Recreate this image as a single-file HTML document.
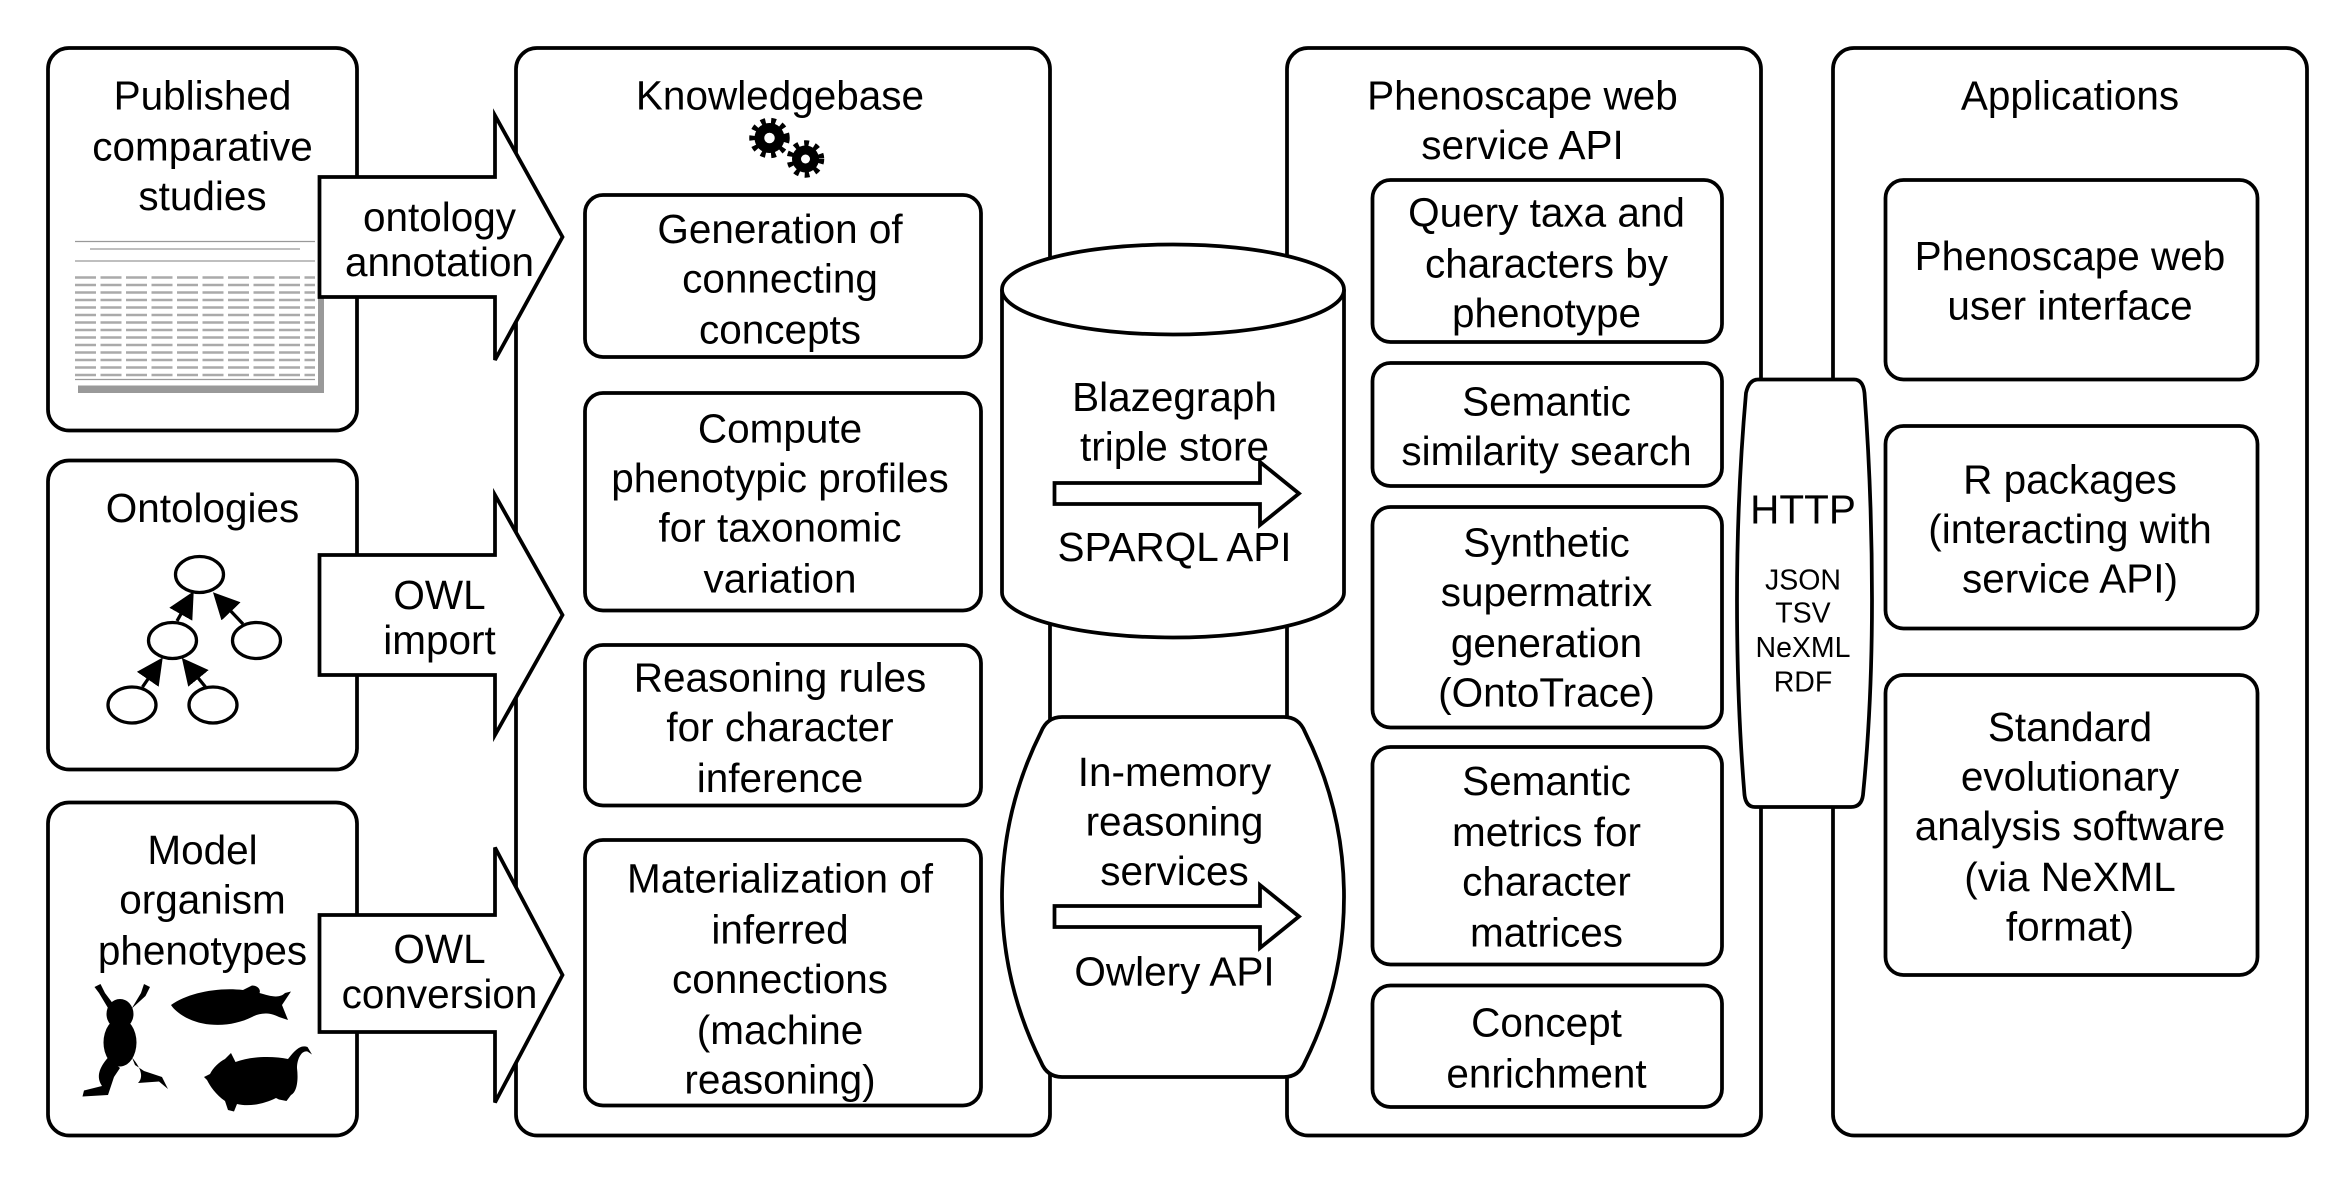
<!DOCTYPE html>
<html><head><meta charset="utf-8"><style>
html,body{margin:0;padding:0;background:#fff}
svg{display:block}
text{font-family:"Liberation Sans",Arial,sans-serif;fill:#000;text-anchor:middle}
.t{font-size:27px}
.s{font-size:19px}
</style></head><body>
<svg width="2341" height="1179" viewBox="0 0 1560.67 786" xmlns="http://www.w3.org/2000/svg">
<defs><marker id="ah" markerWidth="8" markerHeight="8" refX="6" refY="4" orient="auto"><path d="M0,0 L8,4 L0,8z" fill="#000"/></marker></defs>
<g fill="none" stroke="#000" stroke-width="2.5">
<rect x="32" y="32" width="206" height="255" rx="14"/>
<rect x="32" y="307" width="206" height="206" rx="14"/>
<rect x="32" y="535" width="206" height="222" rx="14"/>
<rect x="344" y="32" width="356" height="725" rx="14"/>
<rect x="858" y="32" width="316" height="725" rx="14"/>
<rect x="1222" y="32" width="316" height="725" rx="14"/>
</g>
<!-- table image -->
<rect x="52" y="160" width="164" height="102" fill="#555" opacity="0.6"/>
<rect x="48" y="155" width="164" height="102" fill="#fff"/>
<g stroke="#999" stroke-width="0.8">
<line x1="50" y1="161" x2="210" y2="161"/><line x1="60" y1="166" x2="200" y2="166"/>
<line x1="50" y1="174" x2="210" y2="174"/><line x1="50" y1="253" x2="210" y2="253"/>
</g>
<g stroke="#aaa" stroke-width="1.6" stroke-dasharray="14 3">
<line x1="50" y1="185" x2="210" y2="185"/><line x1="50" y1="190" x2="210" y2="190"/>
<line x1="50" y1="195" x2="210" y2="195"/><line x1="50" y1="200" x2="210" y2="200"/>
<line x1="50" y1="205" x2="210" y2="205"/><line x1="50" y1="210" x2="210" y2="210"/>
<line x1="50" y1="215" x2="210" y2="215"/><line x1="50" y1="220" x2="210" y2="220"/>
<line x1="50" y1="225" x2="210" y2="225"/><line x1="50" y1="230" x2="210" y2="230"/>
<line x1="50" y1="235" x2="210" y2="235"/><line x1="50" y1="240" x2="210" y2="240"/>
<line x1="50" y1="245" x2="210" y2="245"/><line x1="50" y1="250" x2="210" y2="250"/>
</g>
<!-- big arrows -->
<g fill="#fff" stroke="#000" stroke-width="2.5">
<path d="M213,118 H330 V77 L375,158 L330,240 V198 H213 Z"/>
<path d="M213,370 H330 V330 L375,410 L330,490 V450 H213 Z"/>
<path d="M213,610 H330 V565 L375,650 L330,735 V688 H213 Z"/>
</g>
<text class="t" x="135" y="73">Published</text>
<text class="t" x="135" y="107">comparative</text>
<text class="t" x="135" y="140">studies</text>
<text class="t" x="293" y="154">ontology</text>
<text class="t" x="293" y="184">annotation</text>
<text class="t" x="135" y="348">Ontologies</text>
<text class="t" x="293" y="406">OWL</text>
<text class="t" x="293" y="436">import</text>
<text class="t" x="135" y="576">Model</text>
<text class="t" x="135" y="609">organism</text>
<text class="t" x="135" y="643">phenotypes</text>
<text class="t" x="293" y="642">OWL</text>
<text class="t" x="293" y="672">conversion</text>
<!-- ontology tree -->
<g fill="none" stroke="#000" stroke-width="2.2">
<ellipse cx="133" cy="383" rx="16" ry="12"/>
<ellipse cx="115" cy="427" rx="16" ry="12"/>
<ellipse cx="171" cy="427" rx="16" ry="12"/>
<ellipse cx="88" cy="470" rx="16" ry="12"/>
<ellipse cx="142" cy="470" rx="16" ry="12"/>
<line x1="118" y1="414" x2="127" y2="398" marker-end="url(#ah)"/>
<line x1="162" y1="416" x2="145" y2="398" marker-end="url(#ah)"/>
<line x1="95" y1="458" x2="106" y2="442" marker-end="url(#ah)"/>
<line x1="137" y1="458" x2="124" y2="442" marker-end="url(#ah)"/>
</g>
<!-- animals -->
<g fill="#000">
<!-- frog -->
<ellipse cx="80" cy="676" rx="9" ry="10"/>
<ellipse cx="80" cy="695" rx="11" ry="16"/>
<path d="M72,672 L66,662 L63,658 L67,656 L70,662 L76,670 Z M88,672 L94,662 L96,656 L100,658 L97,664 L86,674 Z"/>
<path d="M72,705 C66,712 64,718 68,724 L56,727 L55,731 L72,730 L76,718 L80,712 Z"/>
<path d="M88,705 C94,712 96,718 92,722 L106,721 L112,726 L108,718 L96,714 L90,710 Z"/>
<!-- fish -->
<path d="M114,670 C125,662 145,658 162,660 L168,657 C172,657 174,660 173,662 C180,664 186,666 190,662 L194,661 L188,670 L192,680 L186,678 C178,674 172,676 168,678 C160,682 150,684 140,683 C128,682 118,676 114,670 Z"/>
<!-- mouse -->
<path d="M150,706 L154,702 L157,708 C168,704 182,704 192,706 C196,701 200,696 205,698 L208,703 L205,701 C201,700 198,706 198,712 C199,720 198,728 194,730 L191,734 L186,733 L184,732 C176,736 166,738 158,736 L156,741 L152,740 L150,734 C144,730 140,724 138,720 L136,718 L140,716 C142,712 146,708 150,706 Z"/>
</g>
<!-- Knowledgebase -->
<text class="t" x="520" y="73">Knowledgebase</text>
<g fill="#000">
<circle cx="513" cy="92" r="10"/><circle cx="537" cy="106" r="9"/>
<g stroke="#000" stroke-width="5" stroke-dasharray="3 3.6"><circle cx="513" cy="92" r="11" fill="none"/><circle cx="537" cy="106" r="10" fill="none"/></g>
<circle cx="513" cy="92" r="3.5" fill="#fff"/><circle cx="537" cy="106" r="3" fill="#fff"/>
</g>
<g fill="none" stroke="#000" stroke-width="2.5">
<rect x="390" y="130" width="264" height="108" rx="12"/>
<rect x="390" y="262" width="264" height="145" rx="12"/>
<rect x="390" y="430" width="264" height="107" rx="12"/>
<rect x="390" y="560" width="264" height="177" rx="12"/>
</g>
<text class="t" x="520" y="162">Generation of</text>
<text class="t" x="520" y="195">connecting</text>
<text class="t" x="520" y="229">concepts</text>
<text class="t" x="520" y="295">Compute</text>
<text class="t" x="520" y="328">phenotypic profiles</text>
<text class="t" x="520" y="361">for taxonomic</text>
<text class="t" x="520" y="395">variation</text>
<text class="t" x="520" y="461">Reasoning rules</text>
<text class="t" x="520" y="494">for character</text>
<text class="t" x="520" y="528">inference</text>
<text class="t" x="520" y="595">Materialization of</text>
<text class="t" x="520" y="629">inferred</text>
<text class="t" x="520" y="662">connections</text>
<text class="t" x="520" y="696">(machine</text>
<text class="t" x="520" y="729">reasoning)</text>
<!-- cylinder -->
<path d="M668,193 V395 A114,30 0 0 0 896,395 V193" fill="#fff" stroke="#000" stroke-width="2.5"/>
<ellipse cx="782" cy="193" rx="114" ry="30" fill="#fff" stroke="#000" stroke-width="2.5"/>
<text class="t" x="783" y="274">Blazegraph</text>
<text class="t" x="783" y="307">triple store</text>
<path d="M703,322 H840 V308 L866,329 L840,350 V336 H703 Z" fill="#fff" stroke="#000" stroke-width="2.5"/>
<text class="t" x="783" y="374">SPARQL API</text>
<!-- in-memory -->
<path d="M708,478 H856 Q866,478 870,488 Q896,540 896,598 Q896,656 870,708 Q866,718 856,718 H708 Q698,718 694,708 Q668,656 668,598 Q668,540 694,488 Q698,478 708,478 Z" fill="#fff" stroke="#000" stroke-width="2.5"/>
<text class="t" x="783" y="524">In-memory</text>
<text class="t" x="783" y="557">reasoning</text>
<text class="t" x="783" y="590">services</text>
<path d="M703,604 H840 V590 L866,611 L840,632 V618 H703 Z" fill="#fff" stroke="#000" stroke-width="2.5"/>
<text class="t" x="783" y="657">Owlery API</text>
<!-- Phenoscape -->
<text class="t" x="1015" y="73">Phenoscape web</text>
<text class="t" x="1015" y="106">service API</text>
<g fill="none" stroke="#000" stroke-width="2.5">
<rect x="915" y="120" width="233" height="108" rx="12"/>
<rect x="915" y="242" width="233" height="82" rx="12"/>
<rect x="915" y="338" width="233" height="147" rx="12"/>
<rect x="915" y="498" width="233" height="145" rx="12"/>
<rect x="915" y="657" width="233" height="81" rx="12"/>
</g>
<text class="t" x="1031" y="151">Query taxa and</text>
<text class="t" x="1031" y="185">characters by</text>
<text class="t" x="1031" y="218">phenotype</text>
<text class="t" x="1031" y="277">Semantic</text>
<text class="t" x="1031" y="310">similarity search</text>
<text class="t" x="1031" y="371">Synthetic</text>
<text class="t" x="1031" y="404">supermatrix</text>
<text class="t" x="1031" y="438">generation</text>
<text class="t" x="1031" y="471">(OntoTrace)</text>
<text class="t" x="1031" y="530">Semantic</text>
<text class="t" x="1031" y="564">metrics for</text>
<text class="t" x="1031" y="597">character</text>
<text class="t" x="1031" y="631">matrices</text>
<text class="t" x="1031" y="691">Concept</text>
<text class="t" x="1031" y="725">enrichment</text>
<!-- HTTP -->
<path d="M1172,253 H1236 Q1242,253 1243,262 Q1248,330 1248,400 Q1248,470 1242,530 Q1241,538 1234,538 H1170 Q1164,538 1163,530 Q1158,470 1158,400 Q1158,330 1164,262 Q1166,253 1172,253 Z" fill="#fff" stroke="#000" stroke-width="2.5"/>
<text class="t" x="1202" y="349">HTTP</text>
<text class="s" x="1202" y="393">JSON</text>
<text class="s" x="1202" y="415">TSV</text>
<text class="s" x="1202" y="438">NeXML</text>
<text class="s" x="1202" y="461">RDF</text>
<!-- Applications -->
<text class="t" x="1380" y="73">Applications</text>
<g fill="none" stroke="#000" stroke-width="2.5">
<rect x="1257" y="120" width="248" height="133" rx="12"/>
<rect x="1257" y="284" width="248" height="135" rx="12"/>
<rect x="1257" y="450" width="248" height="200" rx="12"/>
</g>
<text class="t" x="1380" y="180">Phenoscape web</text>
<text class="t" x="1380" y="213">user interface</text>
<text class="t" x="1380" y="329">R packages</text>
<text class="t" x="1380" y="362">(interacting with</text>
<text class="t" x="1380" y="395">service API)</text>
<text class="t" x="1380" y="494">Standard</text>
<text class="t" x="1380" y="527">evolutionary</text>
<text class="t" x="1380" y="560">analysis software</text>
<text class="t" x="1380" y="594">(via NeXML</text>
<text class="t" x="1380" y="627">format)</text>
</svg>
</body></html>
